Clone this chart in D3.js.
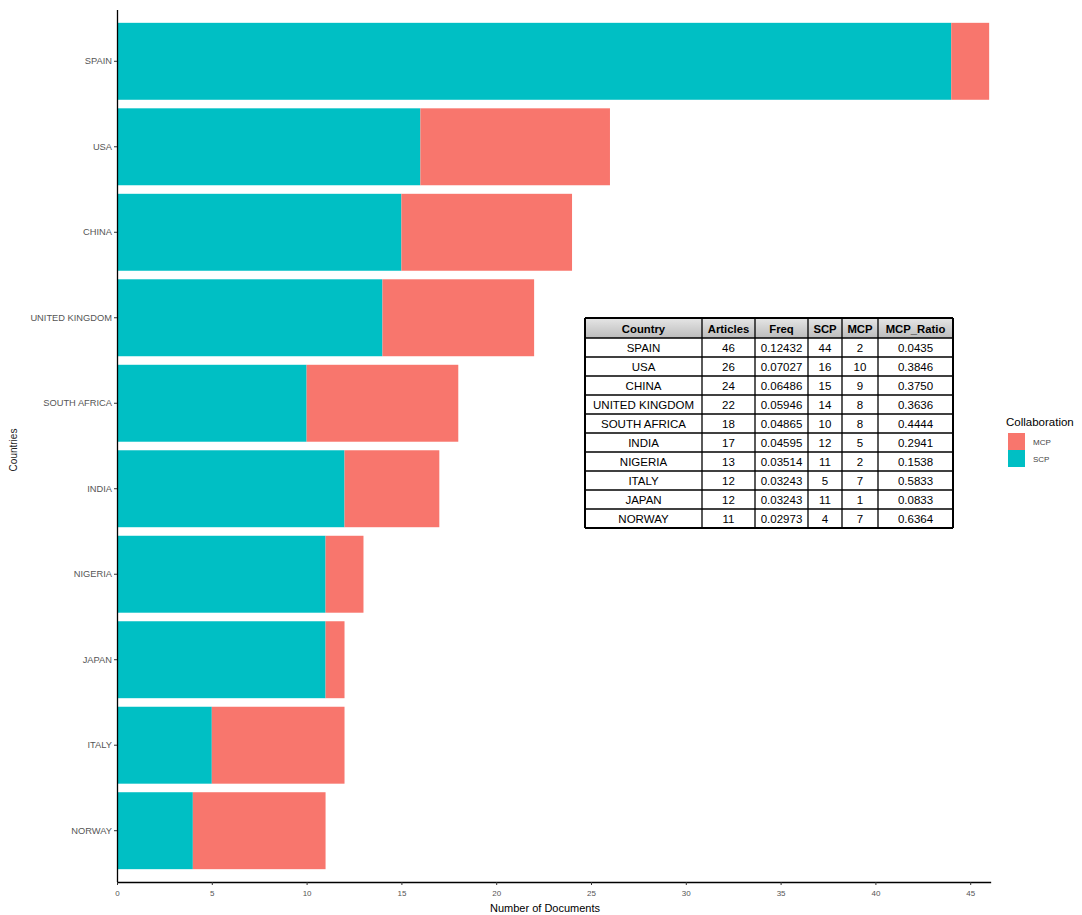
<!DOCTYPE html>
<html><head><meta charset="utf-8">
<script src="https://cdn.jsdelivr.net/npm/d3@7"></script>
<style>body{margin:0;background:#fff;} svg{display:block;font-family:"Liberation Sans",Arial,sans-serif;}</style>
</head><body>
<svg id="c" width="1082" height="915"></svg>
<script>
// Chart data (order as in the chart)
const countries = ["SPAIN","USA","CHINA","UNITED KINGDOM","SOUTH AFRICA","INDIA","NIGERIA","JAPAN","ITALY","NORWAY"];
const scp = [44,16,15,14,10,12,11,11,5,4];
const mcp = [2,10,9,8,8,5,2,1,7,7];
const xTicks = [0,5,10,15,20,25,30,35,40,45];
// Table data
const tableHeader = ["Country","Articles","Freq","SCP","MCP","MCP_Ratio"];
const tCountry = ["SPAIN","USA","CHINA","UNITED KINGDOM","SOUTH AFRICA","INDIA","NIGERIA","ITALY","JAPAN","NORWAY"];
const tArticles = ["46","26","24","22","18","17","13","12","12","11"];
const tFreq = ["0.12432","0.07027","0.06486","0.05946","0.04865","0.04595","0.03514","0.03243","0.03243","0.02973"];
const tSCP = ["44","16","15","14","10","12","11","5","11","4"];
const tMCP = ["2","10","9","8","8","5","2","7","1","7"];
const tRatio = ["0.0435","0.3846","0.3750","0.3636","0.4444","0.2941","0.1538","0.5833","0.0833","0.6364"];

const colSCP = "#00BFC4", colMCP = "#F8766D";
const svg = d3.select("#c");
const L = 117, T = 10, B = 882;
const x = d3.scaleLinear().domain([0,46]).range([L, L + 46*18.96]);
const y = d3.scaleBand().domain(countries).range([T,B]).paddingInner(0.1).paddingOuter(0.15);

const g = svg.append("g");
countries.forEach((c,i)=>{
  g.append("rect").attr("x",x(0)).attr("y",y(c)).attr("width",x(scp[i])-x(0)).attr("height",y.bandwidth()).attr("fill",colSCP);
  g.append("rect").attr("x",x(scp[i])).attr("y",y(c)).attr("width",x(scp[i]+mcp[i])-x(scp[i])).attr("height",y.bandwidth()).attr("fill",colMCP);
});

// axes
const xa = svg.append("g").attr("transform",`translate(0,${B})`)
  .call(d3.axisBottom(x).tickValues(xTicks).tickSize(3).tickPadding(5).tickSizeOuter(0));
xa.select(".domain").attr("d",`M${L},0.5H${x(46)+2}`).attr("stroke","#000").attr("stroke-width",1.3);
xa.selectAll("text").attr("font-size",8).attr("fill","#555").attr("font-family","Liberation Sans, Arial, sans-serif");
xa.selectAll("line").attr("stroke","#333");
const ya = svg.append("g").attr("transform",`translate(${L},0)`)
  .call(d3.axisLeft(y).tickSize(3).tickPadding(2).tickSizeOuter(0));
ya.select(".domain").attr("d",`M0.5,${T}V${B}`).attr("stroke","#000").attr("stroke-width",1.3);
ya.selectAll("text").attr("font-size",9.3).attr("fill","#555").attr("font-family","Liberation Sans, Arial, sans-serif");
ya.selectAll("line").attr("stroke","#333");

svg.append("text").attr("x",545).attr("y",912).attr("text-anchor","middle").attr("font-size",11).attr("fill","#000").text("Number of Documents");
svg.append("text").attr("transform","translate(17,450) rotate(-90)").attr("text-anchor","middle").attr("font-size",10).attr("fill","#222").text("Countries");

// legend
const lg = svg.append("g");
lg.append("text").attr("x",1006).attr("y",426).attr("font-size",11.5).attr("fill","#000").text("Collaboration");
[["MCP",colMCP],["SCP",colSCP]].forEach((d,i)=>{
  lg.append("rect").attr("x",1008).attr("y",433+i*17).attr("width",17).attr("height",17).attr("fill",d[1]);
  lg.append("text").attr("x",1033).attr("y",445+i*17).attr("font-size",8).attr("fill","#444").text(d[0]);
});

// table
const colEdges = [585,702,755,808,842,878,953];
const rowTop = 318, headH = 20, rowH = 19;
const rows = tCountry.map((c,i)=>[c,tArticles[i],tFreq[i],tSCP[i],tMCP[i],tRatio[i]]);
const tg = svg.append("g").attr("font-size",11.5).attr("fill","#000");
const grad = svg.append("defs").append("linearGradient").attr("id","hg").attr("x1",0).attr("x2",0).attr("y1",0).attr("y2",1);
grad.append("stop").attr("offset","0%").attr("stop-color","#e6e6e6");
grad.append("stop").attr("offset","100%").attr("stop-color","#bcbcbc");
tg.append("rect").attr("x",colEdges[0]).attr("y",rowTop).attr("width",colEdges[6]-colEdges[0]).attr("height",headH).attr("fill","url(#hg)");
tableHeader.forEach((h,j)=>{
  tg.append("text").attr("x",(colEdges[j]+colEdges[j+1])/2).attr("y",rowTop+14.5).attr("text-anchor","middle").attr("font-weight","bold").attr("font-size",11.3).text(h);
});
rows.forEach((r,i)=>{
  r.forEach((v,j)=>{
    tg.append("text").attr("x",(colEdges[j]+colEdges[j+1])/2).attr("y",rowTop+headH+i*rowH+14).attr("text-anchor","middle").text(v);
  });
});
const tb = rowTop+headH+rows.length*rowH;
for(let i=0;i<=rows.length;i++){
  const yy = i===0? rowTop : rowTop+headH+(i-1)*rowH;
  tg.append("line").attr("x1",colEdges[0]).attr("x2",colEdges[6]).attr("y1",yy).attr("y2",yy).attr("stroke","#000").attr("stroke-width",i===0?2:1.3);
}
tg.append("line").attr("x1",colEdges[0]).attr("x2",colEdges[6]).attr("y1",tb).attr("y2",tb).attr("stroke","#000").attr("stroke-width",2);
colEdges.forEach((cx,j)=>{
  tg.append("line").attr("x1",cx).attr("x2",cx).attr("y1",rowTop).attr("y2",tb).attr("stroke","#000").attr("stroke-width",(j===0||j===6)?2:1.3);
});
</script>
</body></html>
